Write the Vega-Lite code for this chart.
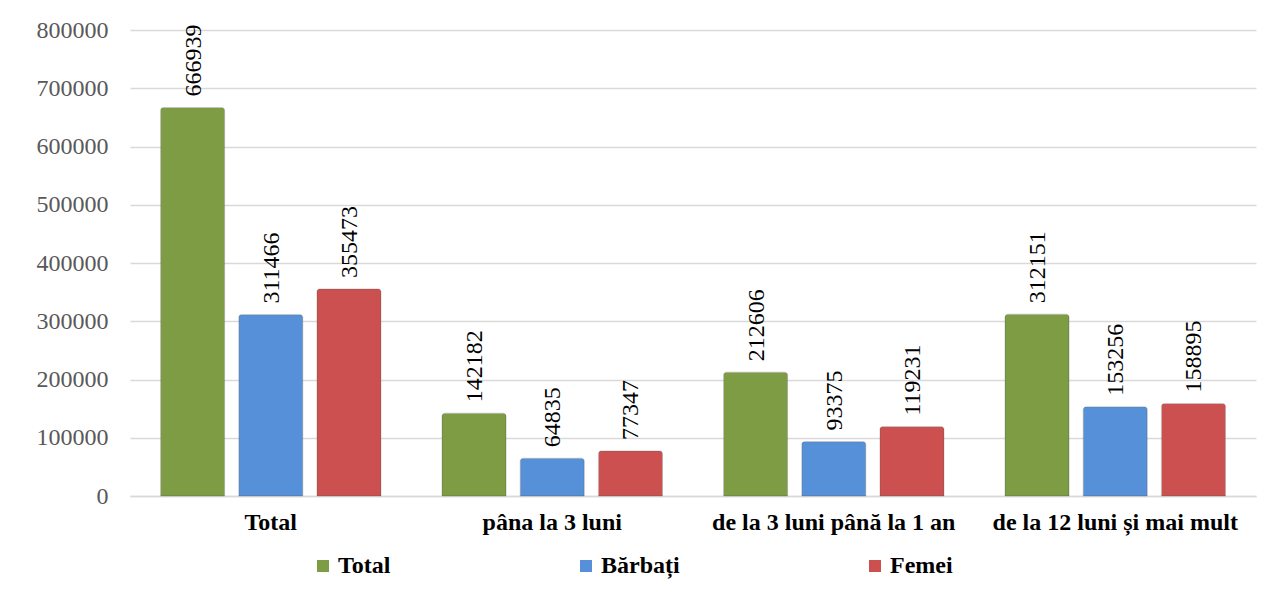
{
  "$schema": "https://vega.github.io/schema/vega-lite/v6.json",
  "width": 1126,
  "height": 466,
  "autosize": {"type": "none"},
  "padding": {"left": 130, "top": 30, "right": 8, "bottom": 95},
  "background": "white",
  "config": {
    "view": {"stroke": null},
    "font": "Liberation Serif"
  },
  "data": {
    "values": [
      {"cat": "Total", "serie": "Total", "v": 666939},
      {"cat": "Total", "serie": "Bărbați", "v": 311466},
      {"cat": "Total", "serie": "Femei", "v": 355473},
      {"cat": "pâna la 3 luni", "serie": "Total", "v": 142182},
      {"cat": "pâna la 3 luni", "serie": "Bărbați", "v": 64835},
      {"cat": "pâna la 3 luni", "serie": "Femei", "v": 77347},
      {"cat": "de la 3 luni până la 1 an", "serie": "Total", "v": 212606},
      {"cat": "de la 3 luni până la 1 an", "serie": "Bărbați", "v": 93375},
      {"cat": "de la 3 luni până la 1 an", "serie": "Femei", "v": 119231},
      {"cat": "de la 12 luni și mai mult", "serie": "Total", "v": 312151},
      {"cat": "de la 12 luni și mai mult", "serie": "Bărbați", "v": 153256},
      {"cat": "de la 12 luni și mai mult", "serie": "Femei", "v": 158895}
    ]
  },
  "encoding": {
    "x": {
      "field": "cat", "type": "nominal", "sort": null,
      "scale": {"paddingInner": 0, "paddingOuter": 0},
      "axis": {
        "title": null, "labelAngle": 0, "labelFont": "Liberation Serif", "labelFontWeight": "bold", "labelFontSize": 24,
        "labelColor": "black", "labelPadding": 14, "ticks": false,
        "domainColor": "#d9d9d9", "domainWidth": 1.5, "labelLimit": 300
      }
    },
    "xOffset": {
      "field": "serie", "type": "nominal", "sort": ["Total", "Bărbați", "Femei"],
      "scale": {"paddingInner": 0.18, "paddingOuter": 0.39}
    },
    "y": {
      "field": "v", "type": "quantitative",
      "scale": {"domain": [0, 800000], "nice": false},
      "axis": {
        "title": null, "values": [0, 100000, 200000, 300000, 400000, 500000, 600000, 700000, 800000],
        "format": "d", "labelFont": "Liberation Serif", "labelFontSize": 24, "labelColor": "#595959", "ticks": false,
        "labelPadding": 22, "domain": false, "gridColor": "#d9d9d9", "gridWidth": 1.5
      }
    }
  },
  "layer": [
    {
      "mark": {"type": "bar", "cornerRadiusTopLeft": 3, "cornerRadiusTopRight": 3, "stroke": "#5a5a5a", "strokeOpacity": 0.25, "strokeWidth": 1},
      "encoding": {
        "color": {
          "field": "serie", "type": "nominal", "sort": ["Total", "Bărbați", "Femei"],
          "scale": {"domain": ["Total", "Bărbați", "Femei"], "range": ["#7d9c43", "#5690d8", "#cc5050"]},
          "legend": {
            "title": null, "orient": "none", "legendX": 181, "legendY": 524,
            "direction": "horizontal", "symbolType": "square", "symbolSize": 144,
            "symbolStrokeWidth": 0, "labelFont": "Liberation Serif", "labelFontSize": 24, "labelFontWeight": "bold", "labelColor": "black",
            "labelOffset": 3, "columnPadding": 183, "labelLimit": 200
          }
        }
      }
    },
    {
      "mark": {"type": "text", "font": "Liberation Serif", "angle": 270, "align": "left", "baseline": "middle", "dx": 11, "dy": 1, "fontSize": 24, "color": "black"},
      "encoding": {
        "text": {"field": "v", "type": "quantitative", "format": "d"}
      }
    }
  ]
}
